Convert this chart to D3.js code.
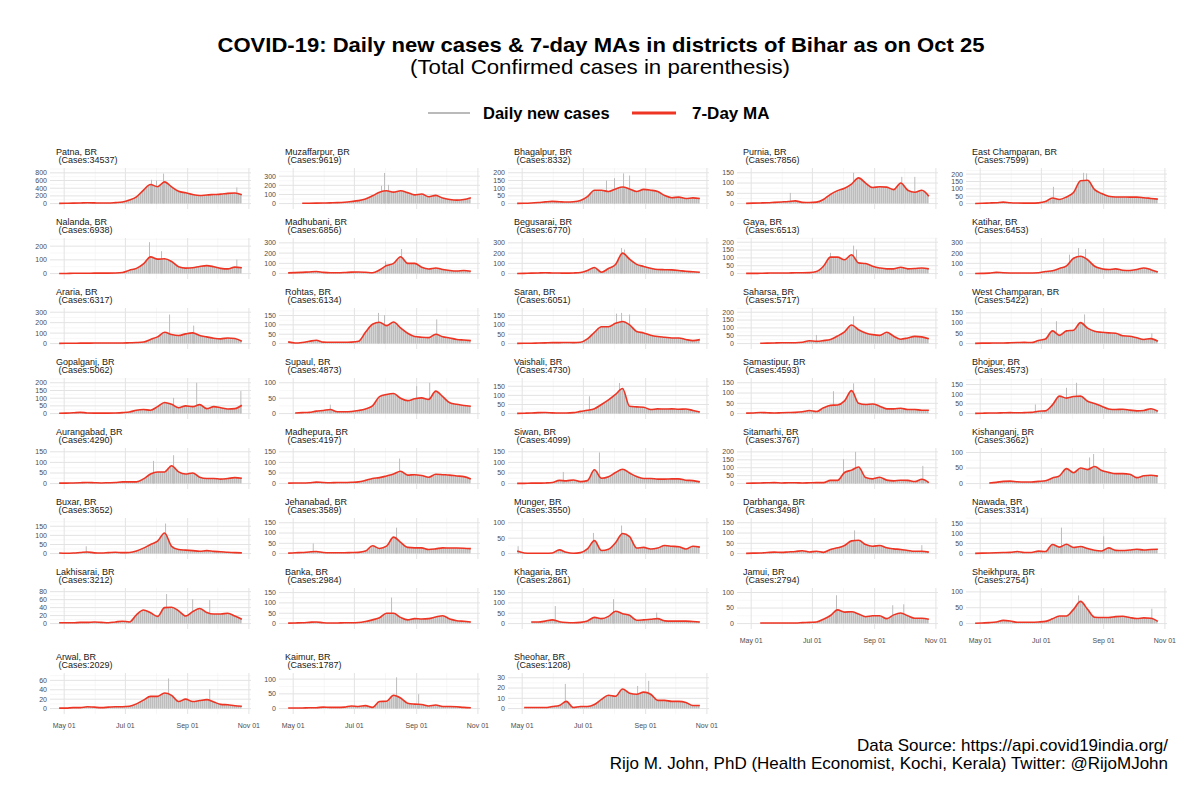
<!DOCTYPE html>
<html><head><meta charset="utf-8">
<script src="https://cdn.jsdelivr.net/npm/d3@7"></script>
<style>body{margin:0;background:#fff;} svg{font-family:"Liberation Sans",Arial,sans-serif;}</style>
</head><body><svg id="c" width="1200" height="800"></svg>
<script>
// ---------------- DATA ----------------
const districts = ["Patna","Muzaffarpur","Bhagalpur","Purnia","East Champaran","Nalanda","Madhubani","Begusarai","Gaya","Katihar","Araria","Rohtas","Saran","Saharsa","West Champaran","Gopalganj","Supaul","Vaishali","Samastipur","Bhojpur","Aurangabad","Madhepura","Siwan","Sitamarhi","Kishanganj","Buxar","Jehanabad","Munger","Darbhanga","Nawada","Lakhisarai","Banka","Khagaria","Jamui","Sheikhpura","Arwal","Kaimur","Sheohar"];
const totalCases = [34537,9619,8332,7856,7599,6938,6856,6770,6513,6453,6317,6134,6051,5717,5422,5062,4873,4730,4593,4573,4290,4197,4099,3767,3662,3652,3589,3550,3498,3314,3212,2984,2861,2794,2754,2029,1787,1208];
// 7-day MA, read weekly at these dates (2020)
const maDates = ["04-26","05-03","05-10","05-17","05-24","05-31","06-07","06-14","06-21","06-28","07-05","07-12","07-19","07-26","08-02","08-09","08-16","08-23","08-30","09-06","09-13","09-20","09-27","10-04","10-11","10-18","10-25"];
const maValues = [
[5,8,12,15,20,18,15,15,25,40,90,175,350,495,440,565,435,320,280,235,210,225,235,245,265,275,230],
[null,null,3,4,5,6,8,10,14,22,32,50,85,125,140,125,140,120,95,105,75,90,60,45,38,45,65],
[1,2,4,7,11,14,12,10,12,20,45,87,87,78,95,108,95,78,92,87,78,52,38,42,33,37,33],
[1,2,3,4,6,8,10,13,6,5,7,20,45,63,75,95,125,100,78,82,80,68,100,65,55,65,36],
[1,2,4,6,10,6,4,3,3,5,14,38,28,45,75,155,158,95,68,50,45,45,44,44,40,35,30],
[1,1,2,2,2,3,3,3,4,8,25,38,70,122,105,108,88,50,40,42,52,58,50,38,34,47,42],
[7,9,12,16,20,12,8,8,10,14,16,13,8,35,78,100,165,100,100,62,45,55,40,30,25,30,22],
[1,2,4,6,8,6,5,4,6,10,30,60,13,50,88,200,140,90,70,52,40,38,36,30,22,18,13],
[1,1,2,3,4,4,4,5,5,6,13,47,105,105,88,120,68,64,47,36,30,30,40,30,32,36,30],
[1,2,4,12,8,6,5,5,6,8,20,27,50,75,150,170,135,72,48,40,46,33,30,40,55,38,15],
[2,3,3,4,4,5,5,6,6,6,8,10,15,40,64,108,86,77,93,102,77,64,51,45,54,48,22],
[9,3,6,12,18,8,7,7,7,8,12,60,103,114,96,115,84,55,38,34,32,50,36,30,22,19,16],
[1,2,2,3,4,5,5,6,5,7,25,60,90,90,108,118,100,65,57,45,38,34,30,30,22,16,21],
[null,null,2,3,4,5,5,5,8,18,15,19,26,48,75,118,88,68,57,52,72,47,28,36,46,43,30],
[1,2,2,3,3,4,5,6,5,15,22,62,40,62,65,102,75,60,55,52,50,38,36,28,20,24,11],
[2,3,5,8,4,3,3,3,4,6,10,22,26,22,45,72,60,38,50,45,58,32,45,38,30,32,54],
[null,2,3,4,8,10,13,6,6,7,10,15,25,55,62,65,50,42,48,51,46,73,55,35,30,26,24],
[1,2,3,5,6,4,3,3,5,12,18,27,50,75,105,138,40,37,35,22,26,25,26,24,25,17,9],
[2,3,5,4,3,4,5,6,9,15,10,28,40,42,62,112,50,44,47,36,23,23,26,20,20,16,16],
[1,2,3,3,4,5,4,5,6,12,14,45,90,80,88,90,64,52,38,24,21,22,18,14,16,25,12],
[2,2,3,4,5,4,3,4,5,8,8,8,22,45,55,55,84,55,45,50,30,24,24,21,24,28,25],
[2,3,3,4,7,5,4,5,5,6,8,15,24,28,36,45,58,40,42,38,30,44,42,40,36,33,22],
[1,1,2,2,3,5,15,13,17,9,14,65,25,32,52,68,50,33,24,24,21,21,22,22,16,14,8],
[2,3,4,5,6,4,5,5,4,5,6,6,20,20,70,85,105,38,30,40,22,17,21,20,13,27,6],
[null,null,2,4,7,8,6,5,5,7,9,18,25,48,35,50,45,55,42,36,32,32,30,19,25,27,24],
[3,2,3,6,9,4,3,5,7,5,6,14,30,50,68,113,40,22,19,16,13,16,12,10,7,5,4],
[2,4,5,8,10,5,4,4,4,5,6,12,38,25,36,80,55,30,28,28,20,23,28,27,27,26,24],
[8,2,1,1,1,2,12,4,1,3,15,42,10,14,35,65,55,18,20,15,18,26,24,22,15,24,21],
[1,2,3,5,7,6,8,10,14,8,11,6,20,28,39,62,65,44,36,39,28,23,20,15,11,11,7],
[1,2,3,4,5,6,10,5,5,12,10,45,32,46,30,35,25,16,13,28,16,15,18,21,18,20,21],
[2,2,2,3,3,4,3,2,4,6,4,22,34,27,18,40,41,32,19,30,38,28,24,24,26,19,11],
[2,3,4,6,8,4,3,3,4,4,5,10,18,28,50,50,30,18,24,22,24,32,38,22,14,11,8],
[null,null,8,8,12,18,9,5,4,6,13,30,24,35,60,48,40,16,18,21,24,13,12,12,12,10,8],
[null,null,2,2,2,2,2,2,3,4,5,14,26,44,37,38,31,22,25,25,16,28,34,25,17,17,14],
[1,2,3,5,10,8,4,4,4,5,7,15,24,24,45,70,45,20,19,19,22,23,19,16,18,17,7],
[1,1,2,2,4,3,2,3,4,4,5,10,18,26,26,33,28,15,20,15,17,19,14,9,8,6,5],
[2,2,2,3,3,5,4,4,5,9,7,10,4,24,25,45,36,18,15,14,9,12,7,7,6,4,3],
[null,1,1,1,1,2,3,7,1,2,2,4,9,13,12,19,15,14,16,14,8,8,7,7,6,3,3]
];
// largest daily new cases visible in each panel (sets the y range)
const dailyMax = [882,371,220,165,230,247,331,331,216,331,324,181,181,216,165,220,110,186,165,175,160,160,160,214,109,186,165,110,165,167,85,164,164,109,107,72,115,33];
// notable single-day spikes of daily new cases ["MM-DD", value]
const dailySpikes = [
[["07-27",620],["08-01",600],["08-08",780],["10-20",420]],
[["07-28",195],["07-31",335],["08-04",205]],
[["07-24",150],["08-01",165],["08-10",196],["08-16",182]],
[["06-09",52],["08-11",150],["09-28",130],["10-11",130]],
[["07-13",114],["08-12",209],["08-15",205]],
[["07-25",229],["08-06",163],["10-20",102]],
[["08-01",120],["08-17",240]],
[["08-08",250],["08-11",235]],
[["07-19",132],["08-11",178],["08-14",153]],
[["07-29",185],["08-07",250],["08-14",240]],
[["08-14",278],["09-07",172]],
[["07-25",164],["07-31",152],["09-21",129]],
[["08-03",160],["08-08",164],["08-16",155]],
[["07-05",55],["08-11",174]],
[["07-16",109],["08-13",142],["10-19",50]],
[["08-18",102],["09-10",200],["10-24",146]],
[["06-07",29],["09-01",89],["09-14",100]],
[["07-07",95],["08-06",168]],
[["07-22",109],["08-11",147]],
[["06-25",47],["07-26",133],["08-05",159]],
[["07-29",107],["08-18",134]],
[["08-15",118]],
[["06-11",55],["07-17",147]],
[["08-01",154],["08-13",200],["10-19",112]],
[["08-18",84],["08-22",95]],
[["05-23",40],["08-10",165]],
[["05-21",49],["08-12",126]],
[["04-27",24],["07-11",67],["08-08",91]],
[["08-12",113],["10-18",41]],
[["07-21",128],["09-01",85]],
[["08-11",74],["09-06",61],["09-23",59]],
[["08-07",126]],
[["06-03",85],["07-31",118],["09-12",53]],
[["07-25",91],["09-19",59],["09-30",62]],
[["08-07",89],["10-19",47]],
[["08-13",64],["09-23",41]],
[["08-12",106],["09-03",49]],
[["06-13",24],["08-24",22],["09-04",27]]
];
const yTickValues = [
[0,200,400,600,800],[0,100,200,300],[0,50,100,150,200],[0,50,100,150],[0,50,100,150,200],
[0,100,200],[0,100,200,300],[0,100,200,300],[0,50,100,150,200],[0,100,200,300],
[0,100,200,300],[0,50,100,150],[0,50,100,150],[0,50,100,150,200],[0,50,100,150],
[0,50,100,150,200],[0,50,100],[0,50,100,150],[0,50,100,150],[0,50,100,150],
[0,50,100,150],[0,50,100,150],[0,50,100,150],[0,50,100,150,200],[0,50,100],
[0,50,100,150],[0,50,100,150],[0,50,100],[0,50,100,150],[0,50,100,150],
[0,20,40,60,80],[0,50,100,150],[0,50,100,150],[0,50,100],[0,50,100],
[0,20,40,60],[0,50,100],[0,10,20,30]
];
const xTickDates = ["05-01","07-01","09-01","11-01"];
const xTickLabels = ["May 01","Jul 01","Sep 01","Nov 01"];
const xMinorDates = ["06-01","08-01","10-01"];
const dataStart = "04-26", dataEnd = "10-25";

// ---------------- LAYOUT ----------------
const md = s => { const [m,d] = s.split("-").map(Number); return new Date(2020, m-1, d); };
const svg = d3.select("#c");
const RED = "#ee3524", GREY = "#bdbdbd";
const colX0 = 50, colStep = 229, panelW = 201, panelH = 41;
const rowTops = [168,238,308,378,448,518,588,673];
const nCols = 5;

const t0 = md(dataStart), t1 = md(dataEnd);
const pad = (t1 - t0) * 0.05;
const x = d3.scaleTime().domain([new Date(+t0 - pad), new Date(+t1 + pad)]).range([0, panelW]);

const defs = svg.append("defs");
const pat = defs.append("pattern").attr("id","barfill").attr("patternUnits","userSpaceOnUse")
  .attr("width",2).attr("height",4);
pat.append("rect").attr("width",2).attr("height",4).attr("fill","#d9d9d9");
pat.append("rect").attr("width",1.2).attr("height",4).attr("fill","#bdbdbd");

// Titles
svg.append("text").attr("x",601).attr("y",52).attr("text-anchor","middle")
  .attr("font-size",21).attr("font-weight","bold").attr("fill","#000")
  .attr("textLength",767).attr("lengthAdjust","spacingAndGlyphs")
  .text("COVID-19: Daily new cases & 7-day MAs in districts of Bihar as on Oct 25");
svg.append("text").attr("x",600).attr("y",74).attr("text-anchor","middle")
  .attr("font-size",21).attr("fill","#000")
  .attr("textLength",380).attr("lengthAdjust","spacingAndGlyphs")
  .text("(Total Confirmed cases in parenthesis)");

// Legend
const lg = svg.append("g");
lg.append("line").attr("x1",428).attr("x2",470).attr("y1",113).attr("y2",113).attr("stroke","#a3a3a3").attr("stroke-width",1.4);
lg.append("text").attr("x",483).attr("y",119).attr("font-size",16.5).attr("font-weight","bold").text("Daily new cases");
lg.append("line").attr("x1",632).attr("x2",676).attr("y1",113).attr("y2",113).attr("stroke",RED).attr("stroke-width",3);
lg.append("text").attr("x",692).attr("y",119).attr("font-size",17).attr("font-weight","bold").text("7-Day MA");

// Panels
districts.forEach((name, i) => {
  const col = i % nCols, row = Math.floor(i / nCols);
  const g = svg.append("g").attr("transform", `translate(${colX0 + col*colStep},${rowTops[row]})`);
  const M = dailyMax[i];
  const y = d3.scaleLinear().domain([-0.16*M, 1.05*M]).range([panelH, 0]);
  const ticks = yTickValues[i];
  const step = ticks[1] - ticks[0];
  const minor = [];
  ticks.forEach(t => { const m = t + step/2; if (y(m) >= 0) minor.push(m); });

  // minor grid
  g.selectAll(".ym").data(minor).join("line")
    .attr("x1",0).attr("x2",panelW).attr("y1",d=>y(d)).attr("y2",d=>y(d))
    .attr("stroke","#f2f2f2").attr("stroke-width",0.6);
  g.selectAll(".xm").data(xMinorDates.map(md)).join("line")
    .attr("x1",d=>x(d)).attr("x2",d=>x(d)).attr("y1",0).attr("y2",panelH)
    .attr("stroke","#f2f2f2").attr("stroke-width",0.6);
  // major grid
  g.selectAll(".yg").data(ticks).join("line")
    .attr("x1",0).attr("x2",panelW).attr("y1",d=>y(d)).attr("y2",d=>y(d))
    .attr("stroke","#e3e3e3").attr("stroke-width",1);
  g.selectAll(".xg").data(xTickDates.map(md)).join("line")
    .attr("x1",d=>x(d)).attr("x2",d=>x(d)).attr("y1",0).attr("y2",panelH)
    .attr("stroke","#e3e3e3").attr("stroke-width",1);

  const pts = maDates.map((s,k) => ({date: md(s), v: maValues[i][k]}));
  // daily bars (body)
  g.append("path").datum(pts)
    .attr("d", d3.area().defined(d=>d.v!=null).curve(d3.curveMonotoneX)
      .x(d=>x(d.date)).y0(y(0)).y1(d=>y(d.v)))
    .attr("fill","url(#barfill)");
  // spikes
  g.selectAll(".sp").data(dailySpikes[i]).join("line")
    .attr("x1",d=>x(md(d[0]))).attr("x2",d=>x(md(d[0])))
    .attr("y1",y(0)).attr("y2",d=>y(d[1]))
    .attr("stroke",GREY).attr("stroke-width",1);
  // MA line
  g.append("path").datum(pts)
    .attr("d", d3.line().defined(d=>d.v!=null).curve(d3.curveMonotoneX)
      .x(d=>x(d.date)).y(d=>y(d.v)))
    .attr("fill","none").attr("stroke",RED).attr("stroke-width",1.6).attr("stroke-linejoin","round");

  // y labels
  g.selectAll(".yl").data(ticks).join("text")
    .attr("x",-3).attr("y",d=>y(d)).attr("dy","0.35em").attr("text-anchor","end")
    .attr("font-size",7).attr("fill","#4d4d4d").text(d=>d);

  // strip
  g.append("text").attr("x",6).attr("y",-13.5).attr("font-size",9).attr("fill","#1a1a1a").text(name + ", BR");
  g.append("text").attr("x",6).attr("y",-5).attr("font-size",9).attr("fill","#1a1a1a")
    .attr("xml:space","preserve").style("white-space","pre").text(" (Cases:" + totalCases[i] + ")");

  // x axis labels under last panel of each column
  if (i + nCols >= districts.length) {
    g.selectAll(".xl").data(xTickDates).join("text")
      .attr("x",d=>x(md(d))).attr("y",panelH+14).attr("text-anchor","middle")
      .attr("font-size",7).attr("fill","#4d4d4d").text((d,j)=>xTickLabels[j]);
  }
});

// Caption
svg.append("text").attr("x",1168).attr("y",751).attr("text-anchor","end").attr("font-size",17).attr("fill","#000")
  .text("Data Source: https://api.covid19india.org/");
svg.append("text").attr("x",1168).attr("y",769).attr("text-anchor","end").attr("font-size",17).attr("fill","#000")
  .text("Rijo M. John, PhD (Health Economist, Kochi, Kerala) Twitter: @RijoMJohn");
</script></body></html>
